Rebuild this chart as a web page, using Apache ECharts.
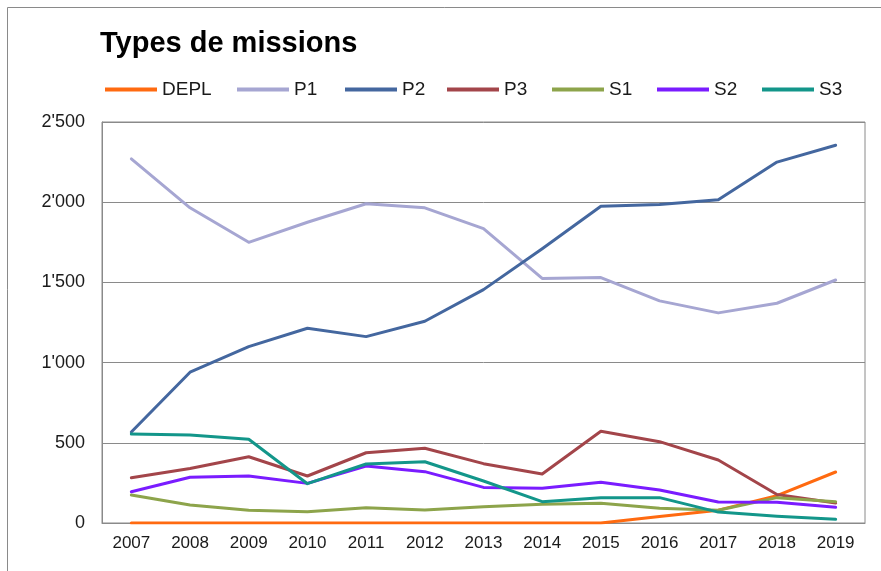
<!DOCTYPE html>
<html>
<head>
<meta charset="utf-8">
<script src="https://cdn.jsdelivr.net/npm/echarts@6/dist/echarts.min.js"></script>
<style>
  html, body { margin: 0; padding: 0; background: #fff; }
  #chart { width: 881px; height: 571px; }
</style>
</head>
<body>
<div id="chart"></div>
<script>
// Annual counts by mission type
const years = ['2007','2008','2009','2010','2011','2012','2013','2014','2015','2016','2017','2018','2019'];
const seriesNames = ['DEPL','P1','P2','P3','S1','S2','S3'];
const depl = [0, 0, 0, 0, 0, 0, 0, 0, 0, 40, 80, 170, 318];
const p1 = [2270, 1965, 1750, 1875, 1990, 1965, 1835, 1525, 1530, 1385, 1310, 1370, 1515];
const p2 = [567, 940, 1100, 1214, 1162, 1258, 1455, 1710, 1975, 1985, 2015, 2250, 2355];
const p3 = [282, 340, 413, 293, 438, 466, 370, 305, 572, 507, 393, 178, 125];
const s1 = [175, 112, 80, 70, 95, 81, 102, 117, 123, 92, 80, 158, 133];
const s2 = [195, 285, 293, 247, 355, 320, 222, 216, 254, 206, 131, 129, 98];
const s3 = [555, 549, 522, 245, 368, 382, 262, 133, 158, 158, 68, 42, 23];
const yTicks = [0, 500, 1000, 1500, 2000, 2500];

const values = [depl, p1, p2, p3, s1, s2, s3];
const colors = ['#FF6A10', '#A6A6D2', '#44679F', '#A3454A', '#8DA44B', '#7A1CFF', '#13968A'];
// Left edge of each legend entry, spread across the header row
const legendLeft = [105, 237, 345, 447, 552, 657, 762];
const font = '"Liberation Sans", Arial, sans-serif';

// Thousands separator with an apostrophe: 2500 -> 2'500
function fmt(v) {
  return String(v).replace(/\B(?=(\d{3})+(?!\d))/g, "'");
}

const chart = echarts.init(document.getElementById('chart'), null, { renderer: 'canvas' });
chart.setOption({
  animation: false,
  backgroundColor: '#ffffff',
  textStyle: { fontFamily: font },
  title: {
    text: 'Types de missions',
    left: 95,
    top: 24,
    textStyle: { fontFamily: font, fontSize: 29, fontWeight: 'bold', color: '#000' }
  },
  legend: seriesNames.map((name, i) => ({
    data: [name],
    left: legendLeft[i],
    top: 80,
    padding: 0,
    icon: 'rect',
    itemWidth: 52,
    itemHeight: 4,
    textStyle: { fontFamily: font, fontSize: 19, color: '#1a1a1a', padding: [0, 0, 0, 0] }
  })),
  graphic: [{
    type: 'rect',
    silent: true,
    shape: { x: 7.5, y: 7.5, width: 900, height: 600 },
    style: { fill: 'none', stroke: '#8a8a8a', lineWidth: 1 }
  }],
  grid: {
    left: 102,
    right: 16,
    top: 122,
    bottom: 48,
    show: true,
    borderColor: '#8a8a8a',
    borderWidth: 1,
    containLabel: false
  },
  xAxis: {
    type: 'category',
    data: years,
    boundaryGap: true,
    axisLine: { show: true, lineStyle: { color: '#8a8a8a', width: 1 } },
    axisTick: { show: false },
    axisLabel: { fontFamily: font, fontSize: 17, color: '#1a1a1a', margin: 12 }
  },
  yAxis: {
    type: 'value',
    min: yTicks[0],
    max: yTicks[yTicks.length - 1],
    interval: yTicks[1] - yTicks[0],
    axisLine: { show: true, lineStyle: { color: '#8a8a8a', width: 1 } },
    axisTick: { show: false },
    splitLine: { show: true, lineStyle: { color: '#8a8a8a', width: 1 } },
    axisLabel: { fontFamily: font, fontSize: 18, color: '#1a1a1a', margin: 17, formatter: fmt }
  },
  series: seriesNames.map((name, i) => ({
    name: name,
    type: 'line',
    data: values[i],
    symbol: 'none',
    color: colors[i],
    lineStyle: { width: 3, color: colors[i], cap: 'round', join: 'round' }
  }))
});
</script>
</body>
</html>
